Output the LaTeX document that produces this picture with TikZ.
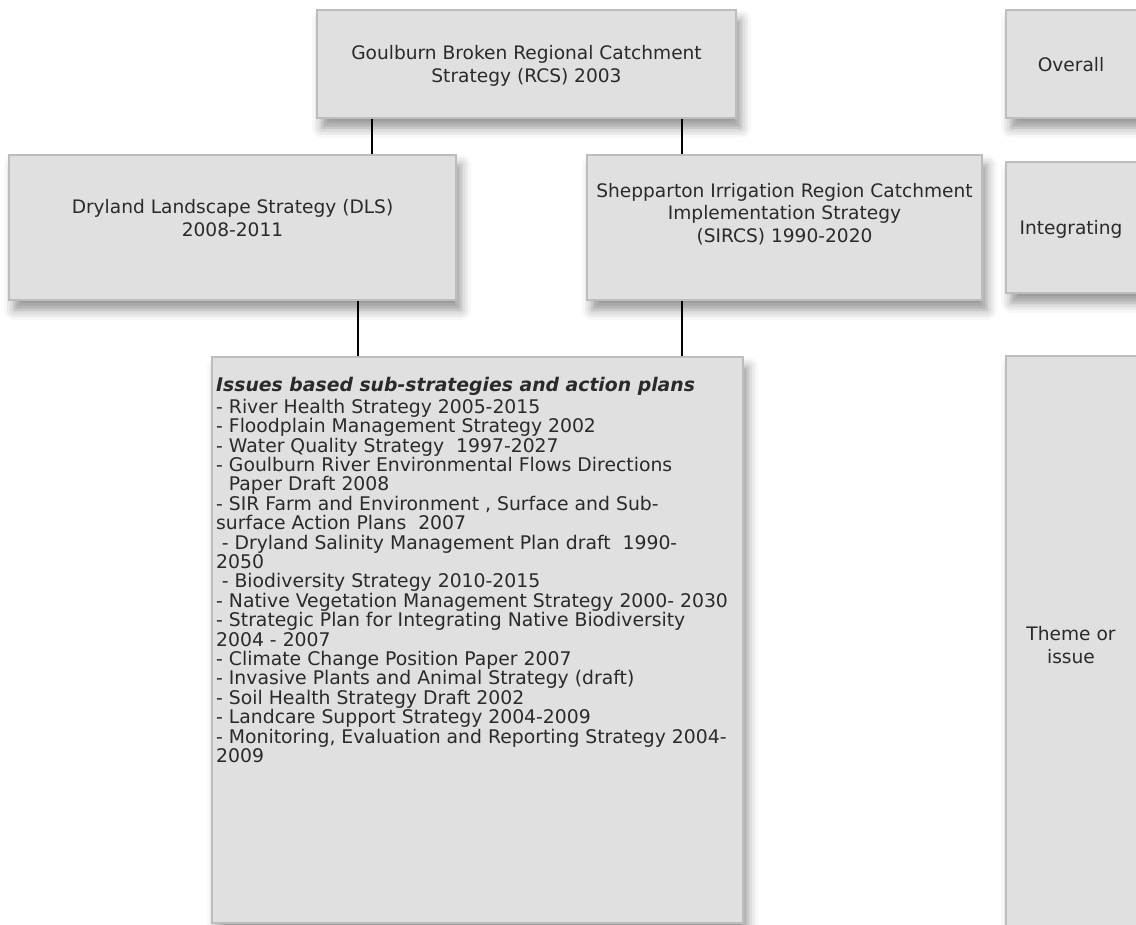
\documentclass[tikz,border=0pt]{standalone}
\usepackage{fontspec}
\setmainfont{DejaVu Sans}
\usetikzlibrary{shadows.blur}
\definecolor{boxfill}{HTML}{E0E0E0}
\definecolor{boxline}{HTML}{BDBDBD}
\definecolor{txtgray}{HTML}{2A2A2A}
\tikzstyle{box}=[shape=rectangle, fill=boxfill, draw=boxline, line width=1.5pt, inner sep=0, blur shadow={shadow xshift=5pt, shadow yshift=-10pt, shadow blur radius=10pt, shadow opacity=42}]
\tikzstyle{lbl}=[font=\fontsize{18.6}{22.5}\selectfont, align=center, text=txtgray, inner sep=0]
\tikzstyle{lst}=[font=\fontsize{18.8}{19.4}\selectfont, align=left, text=txtgray, inner sep=0]
\tikzstyle{link}=[line width=2pt]

\begin{document}
\begin{tikzpicture}[x=1pt, y=-1pt]
\useasboundingbox (0,0) rectangle (1136,925);
% boxes
\node at (526.5,64)[box, minimum width=419pt, minimum height=108pt](rcs){};
\node at (232.5,227.5)[box, minimum width=447pt, minimum height=145pt](dls){};
\node at (784.5,227.5)[box, minimum width=395pt, minimum height=145pt](sircs){};
\node at (477.5,640)[box, minimum width=531pt, minimum height=566pt](issues){};
\node at (1073,64)[box, minimum width=134pt, minimum height=108pt](overall){};
\node at (1073,227.5)[box, minimum width=134pt, minimum height=131pt](integ){};
\node at (1073,648)[box, minimum width=134pt, minimum height=584pt](theme){};
% texts
\node at (526.5,66)[lbl](rcstxt){Goulburn Broken Regional Catchment\\Strategy (RCS) 2003};
\node at (232.5,218)[lbl](dlstxt){Dryland Landscape Strategy (DLS)\\2008-2011};
\node at (784.5,214)[lbl](sircstxt){Shepparton Irrigation Region Catchment\\Implementation Strategy\\(SIRCS) 1990-2020};
\node at (1071,65)[lbl](overtxt){Overall};
\node at (1071,229)[lbl](integtxt){Integrating};
\node at (1071,645)[lbl](themetxt){Theme or\\issue};
\node at (216,377)[lst, anchor=north west](issuestxt){\textbf{\textit{Issues based sub-strategies and action plans}}\\[2.5pt]
- River Health Strategy 2005-2015\\
- Floodplain Management Strategy 2002\\
- Water Quality Strategy\ \ 1997-2027\\
- Goulburn River Environmental Flows Directions\\
\phantom{- }Paper Draft 2008\\
- SIR Farm and Environment , Surface and Sub-\\
surface Action Plans\ \ 2007\\
\hspace*{0.3em}- Dryland Salinity Management Plan draft\ \ 1990-\\
2050\\
\hspace*{0.3em}- Biodiversity Strategy 2010-2015\\
- Native Vegetation Management Strategy 2000- 2030\\
- Strategic Plan for Integrating Native Biodiversity\\
2004 - 2007\\
- Climate Change Position Paper 2007\\
- Invasive Plants and Animal Strategy (draft)\\
- Soil Health Strategy Draft 2002\\
- Landcare Support Strategy 2004-2009\\
- Monitoring, Evaluation and Reporting Strategy 2004-\\
2009};
% connectors
\coordinate (c1) at (372,0);
\coordinate (c2) at (682,0);
\coordinate (c3) at (358,0);
\draw[link] (rcs.south -| c1) -- (dls.north -| c1);
\draw[link] (rcs.south -| c2) -- (sircs.north -| c2);
\draw[link] (dls.south -| c3) -- (issues.north -| c3);
\draw[link] (sircs.south -| c2) -- (issues.north -| c2);
\end{tikzpicture}
\end{document}
